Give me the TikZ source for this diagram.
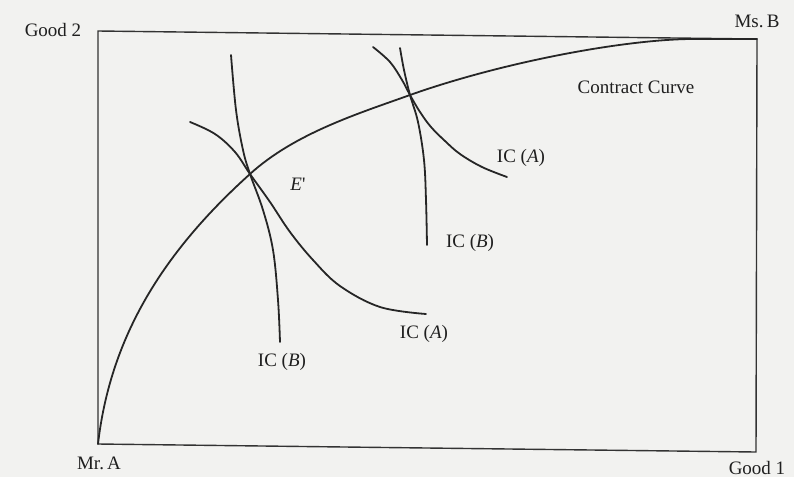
\documentclass[tikz,border=0pt]{standalone}
\usepackage{fontspec}
\setmainfont{Liberation Serif}
\begin{document}
\begin{tikzpicture}[x=1pt,y=-1pt,
  lbl/.style={inner sep=0pt,font=\fontsize{19}{21}\selectfont,text=black!88},
  curve/.style={line width=1.8pt,draw=black!85,line cap=round,line join=round},
  frame/.style={line width=1.4pt,draw=black!80,line join=miter}]
\useasboundingbox (0,0) rectangle (794,477);
\fill[fill={rgb,255:red,242;green,242;blue,240}] (0,0) rectangle (794,477);
% Edgeworth box
\draw[frame] (98,31) -- (757,39) -- (756,452) -- (98,444) -- cycle;
% contract curve
\coordinate (oA) at (98,444);
\coordinate (E) at (250,174);
\coordinate (F) at (410,95);
\coordinate (J) at (690,39);
\coordinate (oB) at (757,39);
\draw[curve] (oA) .. controls (110,340) and (160,255) .. (E)
  .. controls (295,133) and (360,113) .. (F)
  .. controls (500,63) and (620,40) .. (J) -- (oB);
% lower IC(B)
\draw[curve] plot[smooth,tension=0.6] coordinates {(231,55) (236,110) (243,150) (250,174) (263,210) (273,250) (278,300) (280,342)};
% lower IC(A)
\draw[curve] plot[smooth,tension=0.6] coordinates {(190,122) (215,134) (235,152) (250,174) (270,202) (290,232) (313,260) (340,286) (380,307) (426,314)};
% upper IC(B)
\draw[curve] plot[smooth,tension=0.6] coordinates {(400,48) (404,70) (410,95) (418,122) (424,160) (426,200) (427,245)};
% upper IC(A)
\draw[curve] plot[smooth,tension=0.6] coordinates {(373,47) (390,62) (402,80) (410,95) (420,112) (431,127) (445,141) (460,154) (482,167) (507,177)};
% labels
\node[lbl] (g2) at (53,30) {Good 2};
\node[lbl] (msb) at (757,21) {Ms.\,B};
\node[lbl] (cc) at (636,87) {Contract Curve};
\node[lbl] (mra) at (99,463) {Mr.\,A};
\node[lbl] (g1) at (757,468) {Good 1};
\node[lbl] (e) at (298,184) {\textit{E}\textquotesingle};
\node[lbl] (ica1) at (521,158) {IC (\textit{A})};
\node[lbl] (icb1) at (470,243) {IC (\textit{B})};
\node[lbl] (ica2) at (424,334) {IC (\textit{A})};
\node[lbl] (icb2) at (282,362) {IC (\textit{B})};
\end{tikzpicture}
\end{document}
